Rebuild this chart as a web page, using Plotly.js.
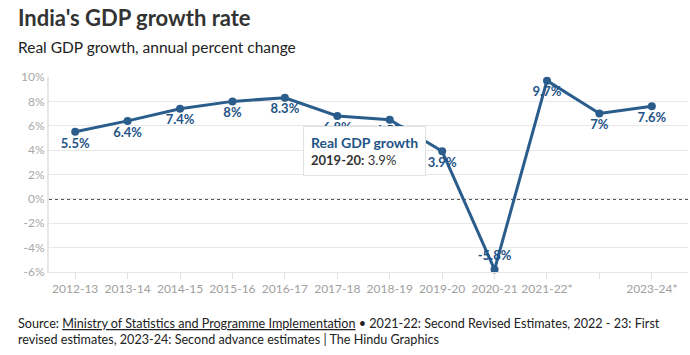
<!DOCTYPE html>
<html>
<head>
<meta charset="utf-8">
<script src="https://cdn.plot.ly/plotly-3.0.1.min.js"></script>
<style>html,body{margin:0;padding:0;background:#fff;}#chart{width:690px;height:355px;}</style>
</head>
<body>
<div id="chart"></div>
<script>
const categories = ['2012-13','2013-14','2014-15','2015-16','2016-17','2017-18','2018-19','2019-20','2020-21','2021-22','2022-23','2023-24'];
const growth = [5.5, 6.4, 7.4, 8, 8.3, 6.8, 6.5, 3.9, -5.8, 9.7, 7, 7.6];
const tickLabels = ['2012-13','2013-14','2014-15','2015-16','2016-17','2017-18','2018-19','2019-20','2020-21','2021-22*','','2023-24*'];
const yTicks = [-6,-4,-2,0,2,4,6,8,10];
const hoverIndex = 7;

const FONT = 'Lato, "Source Sans Pro", "Noto Sans", sans-serif';
const BLUE = '#2a5d8c';

const labels = growth.map(v => v + '%');
const minVal = Math.min(...growth);
const positions = growth.map(v => v === minVal ? 'top center' : 'bottom center');

const trace = {
  type: 'scatter',
  mode: 'lines+markers+text',
  x: categories,
  y: growth,
  line: {color: BLUE, width: 3},
  marker: {color: BLUE, size: 8},
  text: labels,
  textposition: positions,
  textfont: {family: FONT, size: 13, color: '#1f5487', weight: 'bold'},
  hoverinfo: 'skip',
  cliponaxis: false
};

const layout = {
  width: 690, height: 355,
  margin: {l: 49, r: 2, t: 77, b: 83},
  paper_bgcolor: '#fff', plot_bgcolor: '#fff',
  font: {family: FONT, color: '#333'},
  showlegend: false,
  xaxis: {
    type: 'category',
    range: [-0.5, 11.69],
    tickmode: 'array',
    tickvals: categories,
    ticktext: tickLabels,
    ticks: 'outside', ticklen: 6, tickcolor: '#e0e0e0',
    showgrid: false,
    showline: true, linecolor: '#e6e6e6', linewidth: 1,
    tickfont: {family: FONT, size: 12, color: '#a0a0a0'},
    fixedrange: true
  },
  yaxis: {
    range: [-6, 10],
    tickmode: 'array',
    tickvals: yTicks,
    ticktext: yTicks.map(v => v + '%'),
    showgrid: true, gridcolor: '#e8e8e8', gridwidth: 1,
    zeroline: false,
    showline: true, linecolor: '#e6e6e6', linewidth: 2,
    ticks: '',
    tickfont: {family: FONT, size: 12, color: '#a8a8a8'},
    fixedrange: true
  },
  shapes: [{
    type: 'line', xref: 'paper', x0: 0, x1: 1, yref: 'y', y0: 0, y1: 0,
    line: {color: '#222', width: 1.5, dash: 'dot'},
    layer: 'below'
  }],
  annotations: [
    {
      xref: 'paper', yref: 'paper', x: -0.0516, y: 1.303,
      xanchor: 'left', yanchor: 'middle', showarrow: false,
      text: "<b>India's GDP growth rate</b>",
      font: {family: FONT, size: 22, color: '#333'}
    },
    {
      xref: 'paper', yref: 'paper', x: -0.0516, y: 1.154,
      xanchor: 'left', yanchor: 'middle', showarrow: false,
      text: 'Real GDP growth, annual percent change',
      font: {family: FONT, size: 15.5, color: '#222'}
    },
    {
      xref: 'paper', yref: 'paper', x: -0.0516, y: -0.303,
      xanchor: 'left', yanchor: 'middle', showarrow: false, align: 'left',
      text: 'Source: <span style="text-decoration:underline">Ministry of Statistics and Programme Implementation</span> • 2021-22: Second Revised Estimates, 2022 - 23: First<br>revised estimates, 2023-24: Second advance estimates | The Hindu Graphics',
      font: {family: FONT, size: 12.6, color: '#222'}
    },
    {
      x: categories[hoverIndex], y: growth[hoverIndex], xref: 'x', yref: 'y',
      xanchor: 'right', yanchor: 'middle', xshift: -16, yshift: 0,
      showarrow: false, align: 'left',
      bgcolor: '#ffffff', bordercolor: '#e2e2e2', borderwidth: 1, borderpad: 7,
      text: '<span style="color:#1f5487;font-size:14px"><b>Real GDP growth</b></span><br><b>' + categories[hoverIndex] + ':</b> ' + growth[hoverIndex] + '%',
      font: {family: FONT, size: 13, color: '#333'}
    }
  ]
};

Plotly.newPlot('chart', [trace], layout, {displayModeBar: false, staticPlot: true});
</script>
</body>
</html>
